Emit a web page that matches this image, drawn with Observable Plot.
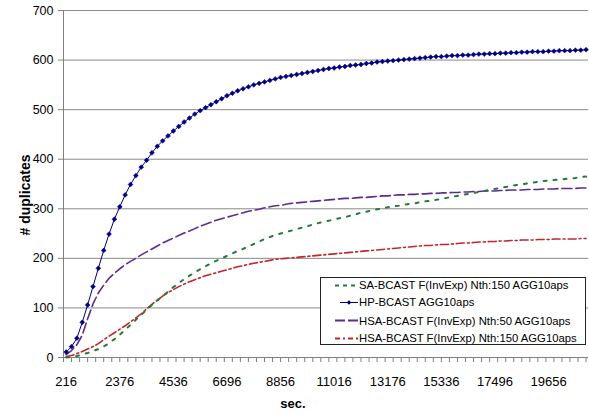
<!DOCTYPE html>
<html><head><meta charset="utf-8">
<script src="https://cdn.jsdelivr.net/npm/d3@7"></script>
<script src="https://cdn.jsdelivr.net/npm/@observablehq/plot@0.6"></script>
<style>
body{margin:0;background:#fff;font-family:"Liberation Sans",Arial,sans-serif;}
#wrap{position:relative;width:589px;height:414px;overflow:hidden;background:#fff;}
#chart svg{display:block;}
.ylab{position:absolute;left:25px;top:195px;transform:translate(-50%,-50%) rotate(-90deg);font-weight:bold;font-size:14px;white-space:nowrap;color:#000;}
.xlab{position:absolute;left:293px;top:403px;transform:translate(-50%,-50%);font-weight:bold;font-size:13px;color:#000;}
#legend{position:absolute;left:320px;top:277px;width:264px;height:66px;border:1px solid #222;background:#fff;}
.row{position:absolute;left:0;height:17px;display:flex;align-items:center;font-size:11.3px;white-space:nowrap;color:#000;}
.row svg{display:block;}
</style>
</head><body>
<div id="wrap">
  <div id="chart"></div>
  <div class="ylab"># duplicates</div>
  <div class="xlab">sec.</div>
  <div id="legend"></div>
</div>
<script>
// Categories (seconds)
const secs = [216,432,648,864,1080,1296,1512,1728,1944,2160,
2376,2592,2808,3024,3240,3456,3672,3888,4104,4320,
4536,4752,4968,5184,5400,5616,5832,6048,6264,6480,
6696,6912,7128,7344,7560,7776,7992,8208,8424,8640,
8856,9072,9288,9504,9720,9936,10152,10368,10584,10800,
11016,11232,11448,11664,11880,12096,12312,12528,12744,12960,
13176,13392,13608,13824,14040,14256,14472,14688,14904,15120,
15336,15552,15768,15984,16200,16416,16632,16848,17064,17280,
17496,17712,17928,18144,18360,18576,18792,19008,19224,19440,
19656,19872,20088,20304,20520,20736,20952,21168];

const xTickLabels = [216,2376,4536,6696,8856,11016,13176,15336,17496,19656];
const yTicks = [0,100,200,300,400,500,600,700];

const seriesNames = [
  "SA-BCAST F(InvExp) Nth:150 AGG10aps",
  "HP-BCAST AGG10aps",
  "HSA-BCAST F(InvExp) Nth:50 AGG10aps",
  "HSA-BCAST F(InvExp) Nth:150 AGG10aps"
];

const saNth150 = [0,1,3,6,9,13,17,22,29,37,
46,56,66,76,86,96,106,115,124,133,
142,150,158,165,172,178,184,190,195,200,
205,210,215,219,224,229,234,239,243,247,
250,253,256,259,262,265,268,271,274,276,
278,281,283,286,289,292,294,297,299,301,
303,305,306,308,310,311,313,315,316,318,
320,322,324,326,328,330,332,334,336,338,
340,342,344,346,348,349,351,353,354,356,
357,358,359,360,361,362,364,365];

const hpAgg = [11,22,39,71,106,143,180,216,249,279,
304,328,349,367,384,398,413,426,437,447,
457,466,475,483,491,498,504,510,516,522,
528,533,538,542,546,550,553,556,559,562,
565,567,569,571,573,575,577,579,581,583,
584,586,587,589,590,591,593,594,596,597,
598,599,600,601,602,603,604,605,606,607,
607,608,609,609,610,610,611,612,612,613,
613,614,614,615,615,616,616,617,617,617,
618,618,619,619,619,620,620,621];

const hsaNth50 = [6,14,26,45,78,108,130,146,160,170,
179,187,194,200,207,213,219,225,231,236,
241,246,251,255,260,265,269,273,277,280,
283,286,289,292,295,297,299,302,304,306,
307,309,311,312,313,314,315,316,317,318,
319,320,321,321,322,323,323,324,325,326,
326,327,328,328,329,329,330,330,331,331,
332,332,333,333,334,334,335,335,336,336,
336,337,337,338,338,338,339,339,339,340,
340,340,341,341,341,341,342,342];

const hsaNth150 = [2,4,8,12,17,22,28,36,43,50,
57,64,72,80,88,98,107,116,124,131,
137,143,148,153,157,161,165,168,171,174,
177,180,183,185,188,190,192,194,196,198,
199,200,201,202,203,204,205,206,207,208,
209,210,211,212,213,214,215,216,217,218,
219,220,221,222,223,224,225,226,226,227,
228,228,229,230,231,231,232,233,233,234,
234,235,235,236,236,237,237,237,238,238,
238,239,239,239,239,239,240,240];

const colors = ["#237a3a", "#000080", "#5c2d91", "#c0272d"];
const dashes = ["3,7", null, "10,4", "8,3,2,3"];
const widths = [2, 1, 1.6, 1.6];

const rows = vals => secs.map((s, i) => ({sec: s, v: vals[i]}));
const xDomain = [108, 21265];
const minorTicks = d3.range(108, 21265, 324);

const lineMark = (vals, i) => Plot.line(rows(vals), {
  x: "sec", y: "v", stroke: colors[i], strokeWidth: widths[i],
  ...(dashes[i] ? {strokeDasharray: dashes[i]} : {})
});

const chart = Plot.plot({
  width: 589, height: 414,
  marginTop: 10, marginBottom: 57, marginLeft: 63, marginRight: 1,
  style: {fontFamily: "'Liberation Sans', Arial, sans-serif", color: "black", background: "white", overflow: "visible"},
  x: {type: "linear", domain: xDomain, label: null},
  y: {domain: [0, 700], label: null},
  marks: [
    Plot.gridY({ticks: yTicks, stroke: "#8a8a8a", strokeOpacity: 1}),
    Plot.ruleX([xDomain[0]], {stroke: "#808080"}),
    Plot.ruleY([0], {stroke: "#808080"}),
    Plot.axisY({ticks: yTicks, tickSize: 5, tickPadding: 5, stroke: "#808080", fill: "black", fontSize: 12.5, tickFormat: d => String(d), label: null}),
    Plot.axisX({ticks: minorTicks, tickSize: 5, tickFormat: () => "", stroke: "#808080", label: null}),
    Plot.axisX({ticks: xTickLabels, tickSize: 0, tickPadding: 19, fill: "black", fontSize: 13, tickFormat: d => String(d), label: null}),
    lineMark(hsaNth150, 3),
    lineMark(hsaNth50, 2),
    lineMark(saNth150, 0),
    lineMark(hpAgg, 1),
    Plot.dot(rows(hpAgg), {x: "sec", y: "v", symbol: "diamond2", r: 2.2, fill: colors[1], stroke: colors[1], strokeWidth: 0.5})
  ]
});
document.getElementById("chart").appendChild(chart);

// Legend
const legend = document.getElementById("legend");
const rowCenters = [7, 24.3, 42.5, 60];
const legDash = ["4,4", null, "10,3", "5,3,2,3"];
seriesNames.forEach((name, i) => {
  const r = document.createElement("div");
  r.className = "row";
  r.style.top = (rowCenters[i] - 8.5) + "px";
  const ns = "http://www.w3.org/2000/svg";
  const s = document.createElementNS(ns, "svg");
  s.setAttribute("width", 38); s.setAttribute("height", 17);
  const l = document.createElementNS(ns, "line");
  const x1 = i === 1 ? 19 : 14;
  l.setAttribute("x1", x1); l.setAttribute("x2", 37);
  l.setAttribute("y1", 8.5); l.setAttribute("y2", 8.5);
  l.setAttribute("stroke", colors[i]);
  l.setAttribute("stroke-width", i === 1 ? 1 : 2);
  if (legDash[i]) l.setAttribute("stroke-dasharray", legDash[i]);
  s.appendChild(l);
  if (i === 1) {
    const p = document.createElementNS(ns, "path");
    p.setAttribute("d", d3.symbol(d3.symbolDiamond2, Math.PI * 2.1 * 2.1)());
    p.setAttribute("transform", "translate(28,8.5)");
    p.setAttribute("fill", colors[1]);
    s.appendChild(p);
  }
  r.appendChild(s);
  const t = document.createElement("span");
  t.textContent = name;
  r.appendChild(t);
  legend.appendChild(r);
});
</script>
</body></html>
